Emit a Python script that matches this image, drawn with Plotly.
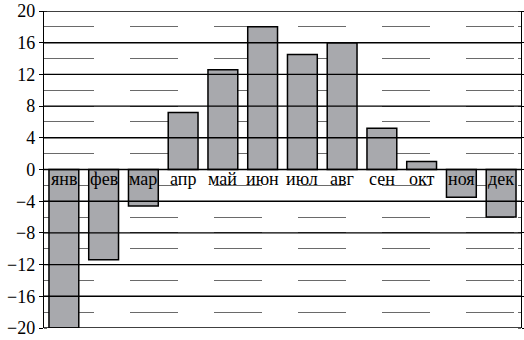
import plotly.graph_objects as go

months = ["янв", "фев", "мар", "апр", "май", "июн", "июл", "авг", "сен", "окт", "ноя", "дек"]
temps = [-20, -11.4, -4.6, 7.2, 12.6, 18.0, 14.5, 16.0, 5.2, 1.0, -3.5, -6.0]
major_ticks = [-20, -16, -12, -8, -4, 0, 4, 8, 12, 16, 20]

FONT = "Liberation Serif"

fig = go.Figure()
fig.add_trace(go.Bar(
    x=months, y=temps,
    marker=dict(color="#a8a9ad", line=dict(color="black", width=1.5)),
    width=0.75,
))

# major grid lines drawn above the bars
for v in major_ticks:
    fig.add_shape(type="line", xref="paper", yref="y", x0=0, x1=1, y0=v, y1=v,
                  line=dict(color="black", width=1.4), layer="above")

# month labels just under the zero line
for m in months:
    fig.add_annotation(x=m, y=0, xref="x", yref="y", text=m, showarrow=False,
                       yanchor="top", yshift=3,
                       font=dict(family=FONT, size=18, color="black"))

fig.update_layout(
    width=524, height=340,
    margin=dict(l=44, r=3, t=11, b=12),
    paper_bgcolor="white", plot_bgcolor="white",
    showlegend=False,
    bargap=0.25,
    font=dict(family=FONT),
)
fig.update_xaxes(type="category", range=[-0.5, 11.5], showticklabels=False,
                 showgrid=False, showline=False, ticks="", zeroline=False,
                 automargin=False)
fig.update_yaxes(
    range=[-20, 20], tickvals=major_ticks,
    ticktext=[("\u2212" + str(-v)) if v < 0 else str(v) for v in major_ticks],
    showgrid=False, zeroline=False, automargin=False,
    showline=True, linecolor="black", linewidth=1.4, mirror="ticks",
    ticks="outside", ticklen=4, tickcolor="black", tickwidth=1.2,
    tickfont=dict(family=FONT, size=18, color="black"),
    minor=dict(dtick=2, tick0=0, showgrid=True, gridcolor="#6a6a6a", gridwidth=1,
               griddash="0px,2px,48px,34px", ticks="inside", ticklen=3,
               tickcolor="#6a6a6a", tickwidth=1),
)

fig.write_html("out.html")
